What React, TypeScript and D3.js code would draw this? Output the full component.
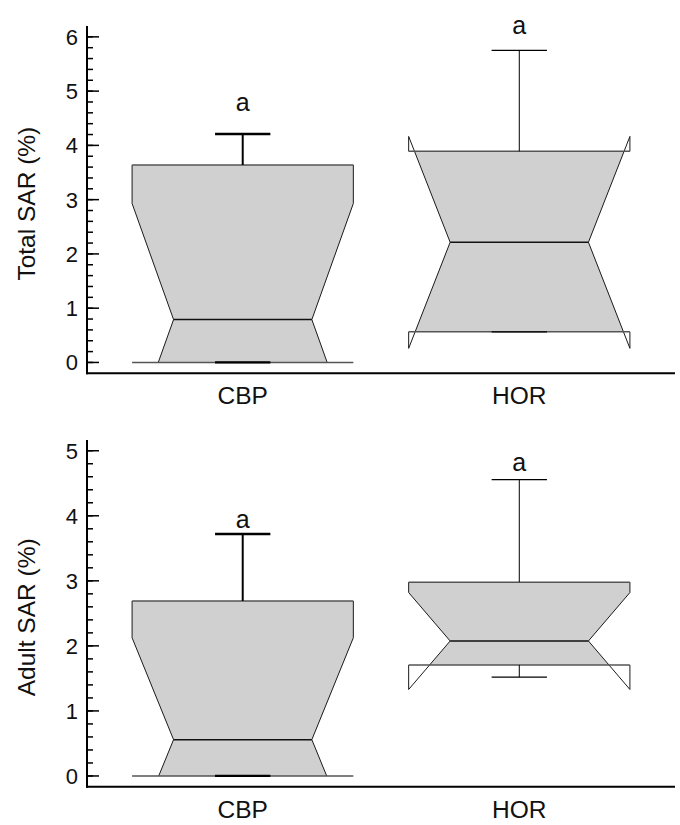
import React from 'react';
import * as d3 from 'd3';

const categories = ['CBP', 'HOR'];

// Total SAR (%)
const totalQ1 = [0, 0.565];
const totalMedian = [0.79, 2.215];
const totalQ3 = [3.64, 3.89];
const totalWhiskerLo = [0, 0.565];
const totalWhiskerHi = [4.21, 5.75];
const totalNotchLo = [-1.35, 0.26];
const totalNotchHi = [2.93, 4.165];
const totalLetters = ['a', 'a'];
const totalLetterAt = [4.63, 6.05];
const totalTicks = [0, 1, 2, 3, 4, 5, 6];

// Adult SAR (%)
const adultQ1 = [0, 1.706];
const adultMedian = [0.558, 2.075];
const adultQ3 = [2.69, 2.98];
const adultWhiskerLo = [0, 1.52];
const adultWhiskerHi = [3.72, 4.555];
const adultNotchLo = [-1.0, 1.33];
const adultNotchHi = [2.125, 2.82];
const adultLetters = ['a', 'a'];
const adultLetterAt = [3.815, 4.69];
const adultTicks = [0, 1, 2, 3, 4, 5];

const FONT = '"Liberation Sans", Arial, sans-serif';
const whiskerWidth = [2, 1];

type PanelProps = {
  top: number;
  bottom: number;
  domain: [number, number];
  ticks: number[];
  title: string;
  q1: number[];
  median: number[];
  q3: number[];
  wLo: number[];
  wHi: number[];
  nLo: number[];
  nHi: number[];
  letters: string[];
  letterAt: number[];
};

const Panel = (p: PanelProps) => {
  const left = 87;
  const right = 675;
  const x = d3.scalePoint<string>().domain(categories).range([left, right]).padding(0.563);
  const y = d3.scaleLinear().domain(p.domain).range([p.bottom, p.top]);
  const step = x.step();
  const boxHalf = step * 0.4;
  const waistHalf = step * 0.25;
  const capHalf = step * 0.1;

  const maxTick = p.ticks[p.ticks.length - 1];
  const minor = d3.range(0, Math.round(maxTick / 0.2) + 1).map(i => i * 0.2);

  return (
    <g>
      {categories.map((c, i) => {
        const cx = x(c) as number;
        const med = p.median[i];
        const up = p.nHi[i];
        const dn = p.nLo[i];
        const q1 = p.q1[i];
        const q3 = p.q3[i];
        // lower notch is dropped when it runs below the axis range
        const clipLo = dn < p.domain[0];
        const half = (v: number) => {
          if (v >= med) {
            const t = Math.min(1, (v - med) / (up - med));
            return waistHalf + (boxHalf - waistHalf) * t;
          }
          const t = Math.min(1, (med - v) / (med - dn));
          return waistHalf + (boxHalf - waistHalf) * t;
        };
        // fill region between hinges
        const vals: number[] = [q3];
        if (up < q3) vals.push(up);
        vals.push(med);
        if (dn > q1) vals.push(dn);
        vals.push(q1);
        const rightPts = vals.map(v => [cx + half(v), y(v)]);
        const leftPts = vals.slice().reverse().map(v => [cx - half(v), y(v)]);
        const fillPath = d3.line()([...rightPts, ...leftPts] as [number, number][]) + 'Z';

        const side = (s: number) => {
          const pts: [number, number][] = [
            [cx + s * boxHalf, y(q3)],
            [cx + s * boxHalf, y(up)],
            [cx + s * waistHalf, y(med)],
          ];
          if (clipLo) {
            pts.push([cx + s * half(q1), y(q1)]);
          } else {
            pts.push([cx + s * boxHalf, y(dn)]);
            pts.push([cx + s * boxHalf, y(q1)]);
          }
          return d3.line()(pts) as string;
        };

        return (
          <g key={c}>
            <path d={fillPath} fill="#d0d0d0" stroke="none" />
            <path d={side(-1)} fill="none" stroke="#1a1a1a" strokeWidth={1} />
            <path d={side(1)} fill="none" stroke="#1a1a1a" strokeWidth={1} />
            <line x1={cx - boxHalf} x2={cx + boxHalf} y1={y(q3)} y2={y(q3)} stroke="#555" strokeWidth={1.5} />
            <line x1={cx - boxHalf} x2={cx + boxHalf} y1={y(q1)} y2={y(q1)} stroke="#555" strokeWidth={1.5} />
            <line x1={cx - waistHalf} x2={cx + waistHalf} y1={y(med)} y2={y(med)} stroke="#111" strokeWidth={1.5} />
            {/* whiskers */}
            <line x1={cx} x2={cx} y1={y(q3)} y2={y(p.wHi[i])} stroke="#000" strokeWidth={whiskerWidth[i]} />
            <line x1={cx - capHalf} x2={cx + capHalf} y1={y(p.wHi[i])} y2={y(p.wHi[i])} stroke="#000" strokeWidth={whiskerWidth[i] + 0.3} />
            <line x1={cx} x2={cx} y1={y(q1)} y2={y(p.wLo[i])} stroke="#000" strokeWidth={whiskerWidth[i]} />
            <line x1={cx - capHalf} x2={cx + capHalf} y1={y(p.wLo[i])} y2={y(p.wLo[i])} stroke="#000" strokeWidth={whiskerWidth[i] + 0.3} />
            <text x={cx} y={y(p.letterAt[i])} textAnchor="middle" fontFamily={FONT} fontSize={25} fill="#111">
              {p.letters[i]}
            </text>
            <text x={cx} y={p.bottom + 31} textAnchor="middle" fontFamily={FONT} fontSize={24.5} fill="#111">
              {c}
            </text>
          </g>
        );
      })}

      {/* axes */}
      <line x1={left} x2={left} y1={p.top} y2={p.bottom + 1} stroke="#000" strokeWidth={2} />
      <line x1={left - 1} x2={right} y1={p.bottom} y2={p.bottom} stroke="#000" strokeWidth={2} />
      {minor.map(v => (
        <line key={'m' + v} x1={left} x2={left + 6} y1={y(v)} y2={y(v)} stroke="#000" strokeWidth={1.5} />
      ))}
      {p.ticks.map(t => (
        <g key={t}>
          <line x1={left} x2={left + 12} y1={y(t)} y2={y(t)} stroke="#000" strokeWidth={1.5} />
          <text x={78} y={y(t)} dy="0.36em" textAnchor="end" fontFamily={FONT} fontSize={22} fill="#111">
            {t}
          </text>
        </g>
      ))}
      <text
        transform={`translate(35,${(y(0) + y(maxTick)) / 2 + 4}) rotate(-90)`}
        textAnchor="middle"
        fontFamily={FONT}
        fontSize={24.5}
        fill="#111"
      >
        {p.title}
      </text>
    </g>
  );
};

export default function App() {
  return (
    <svg
      width={680}
      height={825}
      style={{ position: 'absolute', left: 0, top: 0, background: '#fff' }}
    >
      <rect width={680} height={825} fill="#fff" />
      <Panel
        top={26}
        bottom={373.3}
        domain={[-0.2, 6.2]}
        ticks={totalTicks}
        title="Total SAR (%)"
        q1={totalQ1}
        median={totalMedian}
        q3={totalQ3}
        wLo={totalWhiskerLo}
        wHi={totalWhiskerHi}
        nLo={totalNotchLo}
        nHi={totalNotchHi}
        letters={totalLetters}
        letterAt={totalLetterAt}
      />
      <Panel
        top={440}
        bottom={786.7}
        domain={[-0.165, 5.165]}
        ticks={adultTicks}
        title="Adult SAR (%)"
        q1={adultQ1}
        median={adultMedian}
        q3={adultQ3}
        wLo={adultWhiskerLo}
        wHi={adultWhiskerHi}
        nLo={adultNotchLo}
        nHi={adultNotchHi}
        letters={adultLetters}
        letterAt={adultLetterAt}
      />
    </svg>
  );
}
